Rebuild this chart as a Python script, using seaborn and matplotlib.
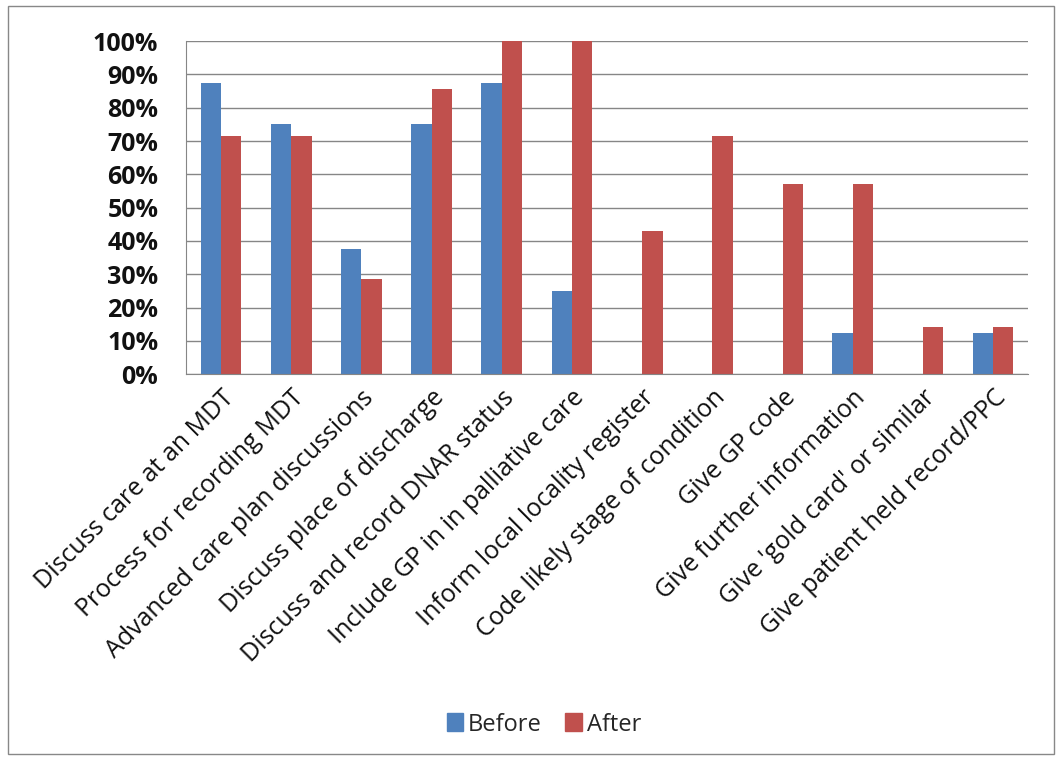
import pandas as pd
import matplotlib
matplotlib.use("Agg")
import matplotlib.pyplot as plt
import seaborn as sns
from matplotlib.patches import Rectangle
from matplotlib.ticker import PercentFormatter

categories = [
    "Discuss care at an MDT",
    "Process for recording MDT",
    "Advanced care plan discussions",
    "Discuss place of discharge",
    "Discuss and record DNAR status",
    "Include GP in in palliative care",
    "Inform local locality register",
    "Code likely stage of condition",
    "Give GP code",
    "Give further information",
    "Give 'gold card' or similar",
    "Give patient held record/PPC",
]
before = [87.5, 75, 37.5, 75, 87.5, 25, 0, 0, 0, 12.5, 0, 12.5]
after = [71.4, 71.4, 28.6, 85.7, 100, 100, 42.9, 71.4, 57.1, 57.1, 14.3, 14.3]
series = ["Before", "After"]
colors = ["#4F81BD", "#C0504D"]

df = pd.DataFrame({"category": categories * 2,
                   "series": ["Before"] * len(categories) + ["After"] * len(categories),
                   "value": before + after})

sns.set_style("white")
plt.rcParams["font.family"] = ["Open Sans", "DejaVu Sans"]

fig = plt.figure(figsize=(10.6, 7.62), dpi=100)
ax = fig.add_axes([0.1755, 0.509, 0.7945, 0.437])

sns.barplot(data=df, x="category", y="value", hue="series", hue_order=series,
            palette=colors, width=0.58, saturation=1, linewidth=0, ax=ax, legend=False)

ax.set_ylim(0, 100)
ax.set_xlim(-0.5, len(categories) - 0.5)
ax.set_yticks(range(0, 101, 10))
ax.yaxis.set_major_formatter(PercentFormatter(decimals=0))
ax.yaxis.grid(True, color="#868686", linewidth=1)
ax.set_axisbelow(True)
ax.set_xlabel("")
ax.set_ylabel("")

for s in ["top", "right"]:
    ax.spines[s].set_visible(False)
ax.spines["left"].set_color("#868686")
ax.spines["bottom"].set_color("#868686")

ax.set_xticks([i - 0.5 for i in range(len(categories) + 1)], minor=True)
ax.tick_params(axis="x", which="major", length=0, pad=8)
ax.tick_params(axis="x", which="minor", length=6, color="#868686", direction="out")
ax.tick_params(axis="y", length=6, color="#868686", direction="out", pad=14)
ax.set_xticklabels(categories, rotation=45, ha="right", rotation_mode="anchor",
                   fontsize=18, color="#111111")
for lbl in ax.get_yticklabels():
    lbl.set_fontsize(18)
    lbl.set_fontweight("bold")
    lbl.set_color("#111111")

handles = [Rectangle((0, 0), 1, 1, color=c) for c in colors]
fig.legend(handles, series, loc="center", bbox_to_anchor=(0.513, 0.049), ncol=2,
           frameon=False, fontsize=17, handlelength=0.7, handleheight=0.8,
           handletextpad=0.2, columnspacing=1.0)

fig.patches.append(Rectangle((0.008, 0.01), 0.986, 0.982, transform=fig.transFigure,
                             fill=False, edgecolor="#888888", linewidth=1))

fig.savefig("out.png", dpi=100)
